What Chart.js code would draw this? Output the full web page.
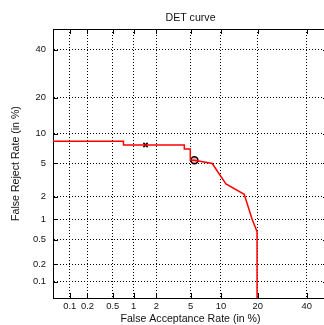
<!DOCTYPE html>
<html>
<head>
<meta charset="utf-8">
<script src="https://cdn.jsdelivr.net/npm/chart.js@4"></script>
<style>
  html, body { margin: 0; padding: 0; background: #fff; overflow: hidden; }
  canvas { display: block; }
</style>
</head>
<body>
<canvas id="detChart" width="340" height="325"></canvas>
<script>
// DET curve data (percent)
const curveFar = [0.05, 0.72, 0.72, 4.28, 4.28, 4.97, 4.97, 5.5, 8.3, 11.1, 15.8, 18.2, 19.8, 19.8];
const curveFrr = [8.5, 8.5, 7.8, 7.8, 7.1, 7.1, 5.43, 5.43, 5.0, 2.9, 2.16, 1.0, 0.66, 0.05];
const crossFar = [1.45];
const crossFrr = [7.8];
const circleFar = [5.5];
const circleFrr = [5.43];
const tickValues = [0.1, 0.2, 0.5, 1, 2, 5, 10, 20, 40];
const tickLabels = ['0.1', '0.2', '0.5', '1', '2', '5', '10', '20', '40'];
const axisMin = 0.05;
const axisMax = 50;

// inverse normal cdf (Acklam) - DET axes are in probit scale
function probit(p) {
    const a = [-3.969683028665376e+01, 2.209460984245205e+02, -2.759285104469687e+02, 1.383577518672690e+02, -3.066479806614716e+01, 2.506628277459239e+00];
    const b = [-5.447609879822406e+01, 1.615858368580409e+02, -1.556989798598866e+02, 6.680131188771972e+01, -1.328068155288572e+01];
    const c = [-7.784894002430293e-03, -3.223964580411365e-01, -2.400758277161838e+00, -2.549732539343734e+00, 4.374664141464968e+00, 2.938163982698783e+00];
    const d = [7.784695709041462e-03, 3.224671290700398e-01, 2.445134137142996e+00, 3.754408661907416e+00];
    const pl = 0.02425;
    if (p < pl) {
        const q = Math.sqrt(-2 * Math.log(p));
        return (((((c[0]*q+c[1])*q+c[2])*q+c[3])*q+c[4])*q+c[5]) / ((((d[0]*q+d[1])*q+d[2])*q+d[3])*q+1);
    }
    if (p > 1 - pl) {
        const q = Math.sqrt(-2 * Math.log(1 - p));
        return -(((((c[0]*q+c[1])*q+c[2])*q+c[3])*q+c[4])*q+c[5]) / ((((d[0]*q+d[1])*q+d[2])*q+d[3])*q+1);
    }
    const q = p - 0.5, r = q * q;
    return (((((a[0]*r+a[1])*r+a[2])*r+a[3])*r+a[4])*r+a[5])*q / (((((b[0]*r+b[1])*r+b[2])*r+b[3])*r+b[4])*r+1);
}
const pct = v => probit(v / 100);

function toPoints(xs, ys) {
    return xs.map((x, i) => ({ x: pct(x), y: pct(ys[i]) }));
}

const font = { family: 'Liberation Sans, Arial, sans-serif', size: 9.4 };
const titleFont = { family: 'Liberation Sans, Arial, sans-serif', size: 10.6 };

function probitAxis(pos, title, extra) {
    return Object.assign({
        type: 'linear',
        position: pos,
        min: pct(axisMin),
        max: pct(axisMax),
        afterBuildTicks: scale => {
            scale.ticks = tickValues.map(v => ({ value: pct(v) }));
        },
        ticks: {
            autoSkip: false,
            maxRotation: 0,
            color: '#111',
            font: font,
            callback: (value, index) => tickLabels[index]
        },
        grid: { color: '#000', lineWidth: 1, drawTicks: false },
        border: { display: true, color: '#000', width: 1, dash: [1, 2] },
        title: { display: true, text: title, color: '#111', font: titleFont }
    }, extra);
}

// small inward tick marks on the frame, like the matlab style plot
const innerTicks = {
    id: 'innerTicks',
    afterDraw(chart) {
        const { ctx, chartArea: a, scales } = chart;
        const len = 5;
        ctx.save();
        ctx.strokeStyle = '#000';
        ctx.lineWidth = 1;
        ctx.beginPath();
        scales.x.ticks.forEach(t => {
            const px = Math.round(scales.x.getPixelForValue(t.value)) + 0.5;
            ctx.moveTo(px, a.top); ctx.lineTo(px, a.top + len);
            ctx.moveTo(px, a.bottom); ctx.lineTo(px, a.bottom - len);
        });
        scales.y.ticks.forEach(t => {
            const py = Math.round(scales.y.getPixelForValue(t.value)) + 0.5;
            ctx.moveTo(a.left, py); ctx.lineTo(a.left + len, py);
            ctx.moveTo(a.right, py); ctx.lineTo(a.right - len, py);
        });
        ctx.stroke();
        ctx.restore();
    }
};

const ctx = document.getElementById('detChart');
const detChart = new Chart(ctx, {
    type: 'scatter',
    data: {
        datasets: [{
            data: toPoints(curveFar, curveFrr),
            showLine: true,
            borderColor: '#ff0000',
            borderWidth: 1.5,
            pointRadius: 0,
            tension: 0
        }, {
            data: toPoints(crossFar, crossFrr),
            pointStyle: 'crossRot',
            pointRadius: 3,
            borderColor: '#000',
            borderWidth: 1.5
        }, {
            data: toPoints(circleFar, circleFrr),
            pointStyle: 'circle',
            pointRadius: 3.5,
            borderColor: '#000',
            backgroundColor: 'rgba(255,0,0,0.3)',
            borderWidth: 1.5
        }]
    },
    options: {
        responsive: false,
        animation: false,
        layout: { padding: { left: 0, right: 12, top: 0, bottom: 0 } },
        plugins: { legend: { display: false }, tooltip: { enabled: false } },
        scales: {
            x: probitAxis('bottom', 'False Acceptance Rate (in %)', {
                afterFit: scale => { scale.height = 27; }
            }),
            y: probitAxis('left', 'False Reject Rate (in %)', {
                afterFit: scale => { scale.width = 53; }
            }),
            // top axis only carries the title and the top frame line
            xTop: {
                type: 'linear',
                position: 'top',
                min: pct(axisMin),
                max: pct(axisMax),
                ticks: { display: false },
                grid: { display: false },
                border: { display: true, color: '#000', width: 1 },
                title: { display: true, text: 'DET curve', color: '#111', font: titleFont, padding: { top: 12, bottom: 0 } },
                afterFit: scale => { scale.height = 29; }
            }
        }
    },
    plugins: [innerTicks]
});

// padding tweaks
detChart.options.scales.x.ticks.padding = 3;
detChart.options.scales.x.title.padding = { top: 0, bottom: 0 };
detChart.options.scales.y.ticks.padding = 7;
detChart.options.scales.y.title.padding = { top: 10, bottom: 0 };
detChart.update();
</script>
</body>
</html>
